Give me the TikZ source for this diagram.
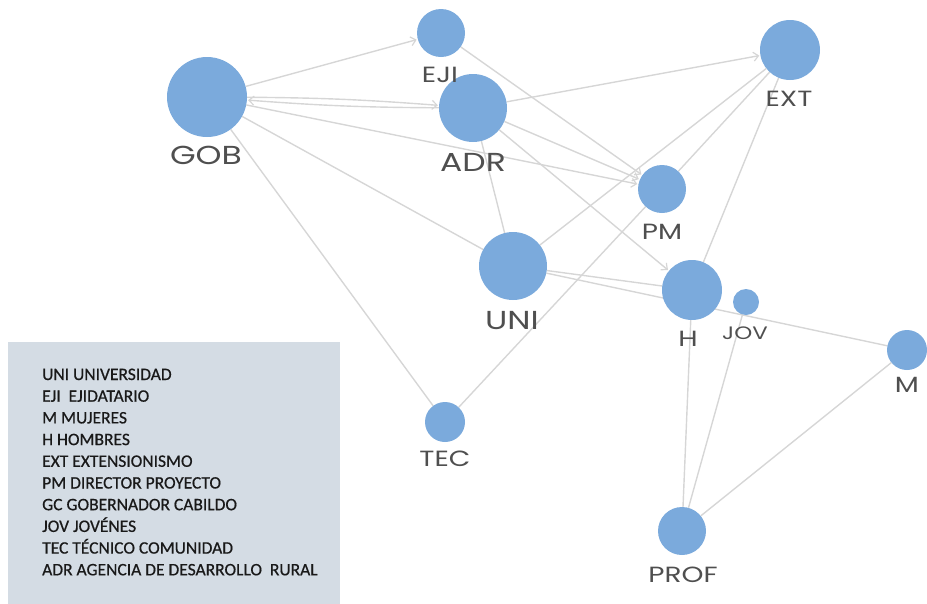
\documentclass[tikz,border=0pt]{standalone}
\usepackage{fontspec}
\newfontfamily\lblfont[FakeStretch=1.27]{Poppins}
\newfontfamily\legfont[FakeBold=0.6]{Carlito}
\usetikzlibrary{arrows.meta}
\pgfdeclarelayer{bg}
\pgfsetlayers{bg,main}
\definecolor{nodeblue}{HTML}{7BAADC}
\definecolor{edgegray}{HTML}{D6D6D6}
\definecolor{lblgray}{HTML}{4F4F4F}
\definecolor{legbg}{HTML}{D4DCE4}
\tikzset{
  nd/.style={circle,fill=nodeblue,draw=none,inner sep=0pt},
  lbl/.style={anchor=base,inner sep=0pt,text=lblgray},
  big/.style={lbl,font=\lblfont\fontsize{26}{26}\selectfont},
  mid/.style={lbl,font=\lblfont\fontsize{22}{22}\selectfont},
  sml/.style={lbl,font=\lblfont\fontsize{18}{18}\selectfont},
  edge/.style={draw=edgegray,line width=1.4pt},
  arr/.style={edge,-{Straight Barb[length=5pt,width=9pt,line width=1.2pt]},shorten >=1pt},
  legtxt/.style={anchor=base west,inner sep=0pt,text=black!90,font=\legfont\fontsize{17.5}{17.5}\selectfont},
}
\begin{document}
\begin{tikzpicture}[x=1pt,y=-1pt]
\useasboundingbox (0,0) rectangle (927,603);
% nodes
\node[nd,minimum size=80pt] (GOB) at (207,97) {};
\node[nd,minimum size=48pt] (EJI) at (441,33) {};
\node[nd,minimum size=68pt] (ADR) at (473,108) {};
\node[nd,minimum size=60pt] (EXT) at (790,50) {};
\node[nd,minimum size=48pt] (PM) at (662,189) {};
\node[nd,minimum size=68pt] (UNI) at (513,266) {};
\node[nd,minimum size=60pt] (H) at (692,290) {};
\node[nd,minimum size=26pt] (JOV) at (746,302) {};
\node[nd,minimum size=40pt] (M) at (907,350) {};
\node[nd,minimum size=40pt] (TEC) at (445,422) {};
\node[nd,minimum size=48pt] (PROF) at (682,531) {};
% labels
\node[big] (GOBl) at (206,164) {GOB};
\node[mid] (EJIl) at (440,82) {EJI};
\node[big] (ADRl) at (473,171) {ADR};
\node[mid] (EXTl) at (789,106) {EXT};
\node[mid] (PMl) at (662,239) {PM};
\node[big] (UNIl) at (512,329) {UNI};
\node[mid] (Hl) at (688,346) {H};
\node[sml] (JOVl) at (745,339) {JOV};
\node[mid] (Ml) at (907,392) {M};
\node[mid] (TECl) at (445,466) {TEC};
\node[mid] (PROFl) at (683,582) {PROF};
% edges
\begin{pgfonlayer}{bg}
\draw[arr] (GOB) -- (EJI);
\draw[arr] (GOB) to[bend left=2] (ADR);
\draw[arr] (ADR) to[bend left=2] (GOB);
\draw[arr] (GOB) -- (PM);
\draw[edge] (GOB) -- (UNI);
\draw[edge] (GOB) -- (TEC);
\draw[arr] (EJI) -- (PM);
\draw[arr] (ADR) -- (EXT);
\draw[arr] (ADR) -- (PM);
\draw[arr] (ADR) -- (H);
\draw[edge] (ADR) -- (UNI);
\draw[edge] (UNI) -- (EXT);
\draw[edge] (UNI) -- (H);
\draw[edge] (UNI) -- (M);
\draw[edge] (TEC) -- (PM);
\draw[edge] (PM) -- (EXT);
\draw[edge] (H) -- (EXT);
\draw[edge] (H) -- (PROF);
\draw[edge] (JOV) -- (PROF);
\draw[edge] (M) -- (PROF);
\end{pgfonlayer}
% legend
\node[fill=legbg,draw=none,anchor=north west,minimum width=332pt,minimum height=262pt,inner sep=0pt] (leg) at (8,342) {};
\node[legtxt] (l1) at (42,380) {UNI UNIVERSIDAD};
\node[legtxt] (l2) at (42,401.7) {EJI\ \ EJIDATARIO};
\node[legtxt] (l3) at (42,423.4) {M MUJERES};
\node[legtxt] (l4) at (42,445.1) {H HOMBRES};
\node[legtxt] (l5) at (42,466.8) {EXT EXTENSIONISMO};
\node[legtxt] (l6) at (42,488.5) {PM DIRECTOR PROYECTO};
\node[legtxt] (l7) at (42,510.2) {GC GOBERNADOR CABILDO};
\node[legtxt] (l8) at (42,531.9) {JOV JOVÉNES};
\node[legtxt] (l9) at (42,553.6) {TEC TÉCNICO COMUNIDAD};
\node[legtxt] (l10) at (42,575.3) {ADR AGENCIA DE DESARROLLO\ \ RURAL};
\end{tikzpicture}
\end{document}
